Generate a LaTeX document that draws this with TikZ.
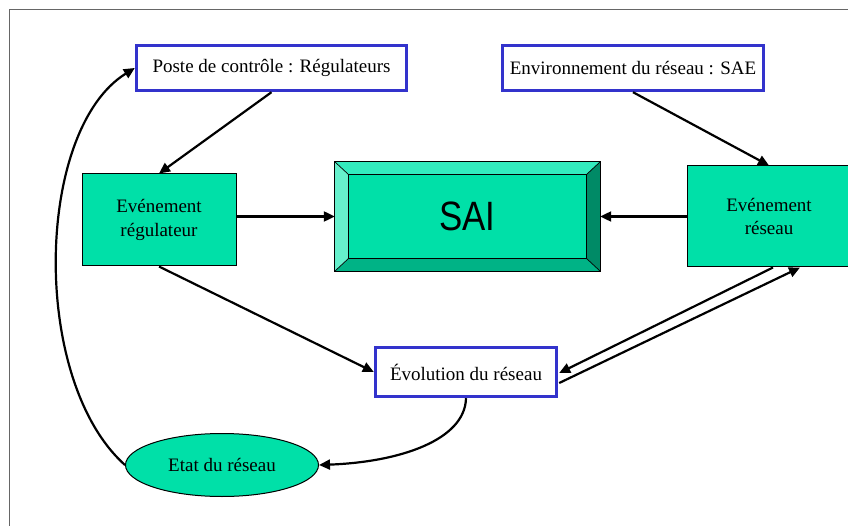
\documentclass[tikz,border=0pt]{standalone}
\usepackage{fontspec}
\setmainfont{Liberation Serif}
\newfontfamily\saifont{Liberation Sans}
\usetikzlibrary{shapes.geometric,arrows.meta,calc}
\definecolor{gfill}{HTML}{00E0A8}
\definecolor{gtop}{HTML}{33EBBE}
\definecolor{gleft}{HTML}{66F0CC}
\definecolor{gright}{HTML}{008A66}
\definecolor{gbot}{HTML}{00B386}
\definecolor{bborder}{HTML}{3333CC}
\tikzset{
  x=1pt, y=-1pt,
  bluebox/.style={draw=bborder, line width=3.4pt, fill=white, inner sep=0pt, font=\fontsize{19}{23}\selectfont},
  greenbox/.style={draw=black, line width=1pt, fill=gfill, inner sep=0pt, align=center, font=\fontsize{19}{23.3}\selectfont},
  conn/.style={draw=black, line width=2.2pt, -{Triangle[length=11pt,width=10pt]}},
}
\begin{document}
\begin{tikzpicture}
\useasboundingbox (0,0) rectangle (848,526);
% frame
\draw[color=black!60, line width=1pt] (9,526) -- (9,10) -- (848,10);

% nodes
\node[bluebox, minimum width=270pt, minimum height=45pt] (poste) at (271.5,68) {Poste de contrôle : Régulateurs};
\node[bluebox, minimum width=261pt, minimum height=45pt] (env) at (633,68) {Environnement du réseau : SAE};
\node[greenbox, minimum width=154pt, minimum height=92pt] (evreg) at (159,220) {Evénement\\régulateur};
\node[greenbox, minimum width=164pt, minimum height=101pt] (evres) at (769,216.5) {Evénement\\réseau};
\node[bluebox, minimum width=181pt, minimum height=49pt] (evo) at (466,372) {Évolution du réseau};
\node[ellipse, draw=black, line width=1pt, fill=gfill, minimum width=193pt, minimum height=63pt, inner sep=0pt, font=\fontsize{19}{23}\selectfont] (etat) at (222,465) {Etat du réseau};

% SAI bevel box
\node[minimum width=265pt, minimum height=109pt, inner sep=0pt] (sai) at (467.5,216.5) {};
\coordinate (o1) at (sai.north west);
\coordinate (o2) at (sai.north east);
\coordinate (o3) at (sai.south east);
\coordinate (o4) at (sai.south west);
\coordinate (i1) at ($(o1)+(14,13)$);
\coordinate (i2) at ($(o2)+(-14,13)$);
\coordinate (i3) at ($(o3)+(-14,-13)$);
\coordinate (i4) at ($(o4)+(14,-13)$);
\fill[gtop] (o1) -- (o2) -- (i2) -- (i1) -- cycle;
\fill[gright] (o2) -- (o3) -- (i3) -- (i2) -- cycle;
\fill[gbot] (o3) -- (o4) -- (i4) -- (i3) -- cycle;
\fill[gleft] (o4) -- (o1) -- (i1) -- (i4) -- cycle;
\fill[gfill] (i1) rectangle (i3);
\draw[line width=1pt] (o1) -- (o2) -- (o3) -- (o4) -- cycle;
\draw[line width=1pt] (i1) -- (i2) -- (i3) -- (i4) -- cycle;
\draw[line width=0.7pt] (o1) -- (i1) (o2) -- (i2) (o3) -- (i3) (o4) -- (i4);
\node[font=\saifont\fontsize{41}{41}\selectfont] (saitext) at (sai.center) {\scalebox{0.85}[1]{SAI}};

% connectors
\draw[conn] (poste.south) -- (evreg.north);
\draw[conn] (env.south) -- (evres.north);
\draw[conn] (evreg.east |- sai.west) -- (sai.west);
\draw[conn] (evres.west |- sai.east) -- (sai.east);
\draw[conn] (evreg.south) -- (evo.west);
\draw[conn] ([xshift=4pt]evres.south) -- ([yshift=-1pt,xshift=1pt]evo.east);
\draw[conn] ([yshift=-11pt,xshift=1pt]evo.east) -- ([xshift=31pt]evres.south);
\draw[conn] (evo.south) .. controls (465,440) and (400,462) .. (etat.east);
\draw[conn] (etat.west) .. controls (30,380) and (35,130) .. (poste.west);
\end{tikzpicture}
\end{document}
